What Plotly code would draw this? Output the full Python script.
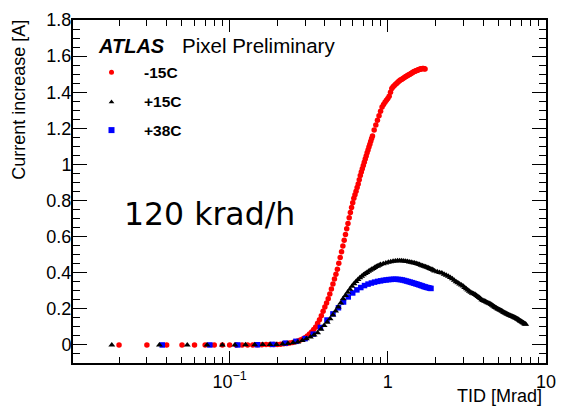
import plotly.graph_objects as go

# ---------------- data ----------------
series_names = ["-15C", "+15C", "+38C"]

red_x = [0.02, 0.03, 0.04, 0.05, 0.06, 0.07, 0.08, 0.09, 0.10,
         0.11, 0.12, 0.13, 0.14, 0.15, 0.16, 0.17, 0.18, 0.19,
         0.20, 0.21, 0.22, 0.23, 0.24, 0.25, 0.26, 0.27, 0.28, 0.29,
         0.30, 0.31, 0.32, 0.33, 0.34, 0.35, 0.36, 0.37, 0.38, 0.39,
         0.40, 0.41, 0.42, 0.43, 0.44, 0.45, 0.46, 0.47, 0.48, 0.49,
         0.50, 0.51, 0.52, 0.53, 0.54, 0.55, 0.56, 0.57, 0.58, 0.59,
         0.60, 0.61, 0.62, 0.63, 0.64, 0.65, 0.66, 0.67, 0.68, 0.69,
         0.70, 0.71, 0.72, 0.73, 0.74, 0.75, 0.76, 0.77, 0.78, 0.79,
         0.80, 0.82, 0.84, 0.86, 0.88, 0.90, 0.92, 0.94, 0.96, 0.98,
         1.00, 1.02, 1.04, 1.06, 1.08, 1.10, 1.12, 1.14, 1.16, 1.18,
         1.20, 1.22, 1.24, 1.26, 1.28, 1.30, 1.32, 1.34, 1.36, 1.38,
         1.40, 1.42, 1.44, 1.46, 1.48, 1.50, 1.52, 1.54, 1.56, 1.58,
         1.60, 1.62, 1.64, 1.66, 1.68, 1.70, 1.72]
red_y = [0.0, 0.0, 0.0, 0.0, 0.0, 0.0, 0.0, 0.0, 0.0,
         0.0, 0.0, 0.0, 0.0, 0.001, 0.001, 0.002, 0.002, 0.003,
         0.003, 0.004, 0.006, 0.008, 0.011, 0.014, 0.018, 0.022, 0.027, 0.033,
         0.040, 0.050, 0.060, 0.072, 0.085, 0.100, 0.120, 0.140, 0.162, 0.186,
         0.210, 0.232, 0.256, 0.282, 0.310, 0.338, 0.365, 0.392, 0.420, 0.452,
         0.484, 0.516, 0.548, 0.580, 0.612, 0.643, 0.673, 0.704, 0.734, 0.762,
         0.788, 0.812, 0.832, 0.852, 0.872, 0.892, 0.915, 0.938, 0.958, 0.976,
         0.994, 1.012, 1.030, 1.047, 1.064, 1.080, 1.096, 1.112, 1.128, 1.143,
         1.158, 1.190, 1.218, 1.245, 1.270, 1.295, 1.318, 1.332, 1.345, 1.355,
         1.365, 1.378, 1.400, 1.420, 1.430, 1.437, 1.444, 1.450, 1.456, 1.462,
         1.467, 1.471, 1.475, 1.479, 1.483, 1.487, 1.490, 1.494, 1.497, 1.500,
         1.504, 1.507, 1.510, 1.513, 1.516, 1.518, 1.520, 1.522, 1.524, 1.526,
         1.528, 1.529, 1.530, 1.531, 1.531, 1.530, 1.529]

black_x = [0.018, 0.036, 0.054, 0.072, 0.090, 0.108, 0.126, 0.144, 0.162, 0.180,
           0.198, 0.216, 0.234, 0.252, 0.270, 0.288, 0.306, 0.324, 0.342, 0.360,
           0.378, 0.396, 0.414, 0.432, 0.450, 0.468, 0.486, 0.504, 0.522, 0.540,
           0.558, 0.576, 0.594, 0.612, 0.630, 0.648, 0.666, 0.684, 0.702, 0.720,
           0.738, 0.756, 0.774, 0.792, 0.810, 0.828, 0.846, 0.864, 0.882, 0.900,
           0.936, 0.972, 1.008, 1.044, 1.080, 1.116, 1.152, 1.188, 1.224, 1.260,
           1.296, 1.332, 1.368, 1.404, 1.440, 1.476, 1.512, 1.548, 1.584, 1.620,
           1.656, 1.692, 1.728, 1.764, 1.800, 1.836, 1.872, 1.908, 1.944, 1.980,
           2.052, 2.124, 2.196, 2.268, 2.340, 2.412, 2.484, 2.556, 2.628, 2.700,
           2.772, 2.844, 2.916, 2.988, 3.060, 3.132, 3.204, 3.276, 3.348, 3.420,
           3.492, 3.564, 3.636, 3.708, 3.780, 3.852, 3.924, 3.996,
           4.068, 4.140, 4.212, 4.284, 4.356, 4.428, 4.500, 4.572, 4.644, 4.716,
           4.788, 4.860, 4.932, 5.004, 5.076, 5.148, 5.220, 5.292, 5.364, 5.436,
           5.508, 5.580, 5.652, 5.724, 5.796, 5.868, 5.940, 6.012, 6.084, 6.156,
           6.228, 6.300, 6.372, 6.444, 6.516, 6.588, 6.660, 6.732, 6.804, 6.876,
           6.948, 7.020, 7.092, 7.164, 7.236, 7.308, 7.380, 7.450]
black_y = [0.0, 0.0, 0.0, 0.0, 0.0, 0.0, 0.001, 0.001, 0.002, 0.002,
           0.003, 0.005, 0.008, 0.012, 0.017, 0.025, 0.034, 0.044, 0.055, 0.067,
           0.087, 0.108, 0.126, 0.145, 0.166, 0.188, 0.210, 0.233, 0.256, 0.274,
           0.292, 0.309, 0.325, 0.339, 0.351, 0.362, 0.372, 0.381, 0.389, 0.396,
           0.402, 0.408, 0.414, 0.419, 0.424, 0.429, 0.434, 0.438, 0.442, 0.445,
           0.450, 0.454, 0.458, 0.461, 0.463, 0.465, 0.466, 0.466, 0.466, 0.465,
           0.464, 0.462, 0.460, 0.458, 0.456, 0.454, 0.451, 0.448, 0.445, 0.442,
           0.439, 0.436, 0.433, 0.430, 0.427, 0.424, 0.421, 0.418, 0.414, 0.410,
           0.406, 0.402, 0.398, 0.392, 0.386, 0.380, 0.373, 0.366, 0.358, 0.350,
           0.344, 0.338, 0.332, 0.326, 0.318, 0.311, 0.304, 0.298, 0.292, 0.287,
           0.283, 0.279, 0.274, 0.269, 0.263, 0.257, 0.251, 0.246,
           0.243, 0.240, 0.237, 0.234, 0.231, 0.228, 0.224, 0.220, 0.216, 0.212,
           0.208, 0.205, 0.201, 0.198, 0.195, 0.192, 0.189, 0.186, 0.183, 0.180,
           0.177, 0.175, 0.172, 0.170, 0.167, 0.165, 0.163, 0.161, 0.159, 0.157,
           0.155, 0.153, 0.151, 0.149, 0.147, 0.144, 0.142, 0.139, 0.136, 0.133,
           0.131, 0.128, 0.126, 0.123, 0.121, 0.118, 0.116, 0.114]

blue_x = [0.0375, 0.075, 0.1125, 0.15, 0.1875, 0.225, 0.2625, 0.30, 0.3375, 0.375,
          0.4125, 0.45, 0.4875, 0.525, 0.5625, 0.60, 0.6375, 0.675, 0.7125, 0.75,
          0.7875, 0.825, 0.8625, 0.90, 0.9375, 0.975, 1.0125, 1.05, 1.0875, 1.125,
          1.1625, 1.20, 1.2375, 1.275, 1.3125, 1.35, 1.3875, 1.425, 1.4625, 1.50,
          1.5375, 1.575, 1.6125, 1.65, 1.6875, 1.725, 1.7625, 1.80, 1.8375, 1.875]
blue_y = [0.0, 0.0, 0.0, 0.001, 0.003, 0.010, 0.020, 0.035, 0.060, 0.097,
          0.138, 0.172, 0.206, 0.238, 0.266, 0.288, 0.305, 0.318, 0.329, 0.337,
          0.343, 0.348, 0.352, 0.355, 0.358, 0.360, 0.362, 0.363, 0.364, 0.364,
          0.363, 0.362, 0.360, 0.357, 0.354, 0.351, 0.348, 0.345, 0.342, 0.339,
          0.336, 0.333, 0.330, 0.327, 0.324, 0.321, 0.319, 0.317, 0.315, 0.313]

y_tickvals = [0, 0.2, 0.4, 0.6, 0.8, 1.0, 1.2, 1.4, 1.6, 1.8]
y_ticktext = ["0", "0.2", "0.4", "0.6", "0.8", "1", "1.2", "1.4", "1.6", "1.8"]
x_tickvals = [0.1, 1, 10]
x_ticktext = ["10<sup>\u22121</sup>", "1", "10"]
x_minor = [0.02, 0.03, 0.04, 0.05, 0.06, 0.07, 0.08, 0.09,
           0.2, 0.3, 0.4, 0.5, 0.6, 0.7, 0.8, 0.9,
           2, 3, 4, 5, 6, 7, 8, 9]

# ---------------- figure ----------------
FONT = "Liberation Sans, Arial, Helvetica, sans-serif"
XRANGE = [-1.99, 1.0]
fig = go.Figure()

fig.add_trace(go.Scatter(x=red_x, y=red_y, mode="markers", name=series_names[0],
                         marker=dict(symbol="circle", size=5.5, color="#ff0000",
                                     line=dict(width=0))))
fig.add_trace(go.Scatter(x=blue_x, y=blue_y, mode="markers", name=series_names[2],
                         marker=dict(symbol="square", size=5.5, color="#0000ff",
                                     line=dict(width=0))))
fig.add_trace(go.Scatter(x=black_x, y=black_y, mode="markers", name=series_names[1],
                         marker=dict(symbol="triangle-up", size=6, color="#000000",
                                     line=dict(width=0))))

# empty trace to carry the overlay axis used for minor x ticks
fig.add_trace(go.Scatter(x=[], y=[], xaxis="x3", yaxis="y", showlegend=False,
                         hoverinfo="skip", mode="markers"))

# legend drawn manually in an overlay frame
leg_colors = ["#ff0000", "#000000", "#0000ff"]
leg_symbols = ["circle", "triangle-up", "square"]
leg_sizes = [5, 5, 6]
leg_y = [0.848, 0.761, 0.679]
for i in range(3):
    fig.add_trace(go.Scatter(x=[0.0814], y=[leg_y[i]], xaxis="x2", yaxis="y2",
                             mode="markers", showlegend=False, hoverinfo="skip",
                             marker=dict(symbol=leg_symbols[i], size=leg_sizes[i],
                                         color=leg_colors[i], line=dict(width=0))))

annotations = []
for i in range(3):
    annotations.append(dict(x=0.1455, y=leg_y[i], xref="paper", yref="paper",
                            text="<b>" + series_names[i] + "</b>", showarrow=False,
                            xanchor="left", yanchor="middle",
                            font=dict(family=FONT, size=15.5, color="black")))
annotations += [
    dict(x=0.048, y=0.925, xref="paper", yref="paper", text="<b><i>ATLAS</i></b>",
         showarrow=False, xanchor="left", yanchor="middle",
         font=dict(family=FONT, size=20, color="black")),
    dict(x=0.227, y=0.925, xref="paper", yref="paper", text="Pixel Preliminary",
         showarrow=False, xanchor="left", yanchor="middle",
         font=dict(family=FONT, size=20.5, color="black")),
    dict(x=0.103, y=0.434, xref="paper", yref="paper", text="120 krad/h",
         showarrow=False, xanchor="left", yanchor="middle",
         font=dict(family="DejaVu Sans", size=31.5, color="black")),
    dict(x=-0.113, y=1.005, xref="paper", yref="paper", text="Current increase [A]",
         textangle=-90, showarrow=False, xanchor="center", yanchor="top",
         font=dict(family=FONT, size=18, color="black")),
    dict(x=0.995, y=-0.097, xref="paper", yref="paper", text="TID [Mrad]",
         showarrow=False, xanchor="right", yanchor="middle",
         font=dict(family=FONT, size=18, color="black")),
]

fig.update_layout(
    width=566, height=407,
    margin=dict(l=73, r=10, t=15, b=44),
    paper_bgcolor="white", plot_bgcolor="white",
    showlegend=False,
    font=dict(family=FONT, size=18, color="black"),
    annotations=annotations,
    xaxis=dict(type="log", range=XRANGE, showgrid=False, zeroline=False,
               showline=True, linewidth=2, linecolor="black", mirror="ticks",
               ticks="inside", ticklen=12, tickwidth=1, tickcolor="black",
               tickmode="array", tickvals=x_tickvals, ticktext=x_ticktext,
               ticklabelstandoff=1,
               tickfont=dict(family=FONT, size=18, color="black")),
    xaxis3=dict(type="log", range=XRANGE, overlaying="x", anchor="y",
                showgrid=False, zeroline=False, showline=False, mirror="ticks",
                ticks="inside", ticklen=6, tickwidth=1, tickcolor="black",
                tickmode="array", tickvals=x_minor, showticklabels=False),
    yaxis=dict(range=[-0.1, 1.8], showgrid=False, zeroline=False,
               showline=True, linewidth=2, linecolor="black", mirror="ticks",
               ticks="inside", ticklen=14, tickwidth=1, tickcolor="black",
               tickmode="array", tickvals=y_tickvals, ticktext=y_ticktext,
               ticklabelstandoff=-4,
               tickfont=dict(family=FONT, size=18, color="black"),
               minor=dict(dtick=0.05, tick0=0, ticks="inside", ticklen=7,
                          tickwidth=1, tickcolor="black", showgrid=False)),
    xaxis2=dict(overlaying="x", range=[0, 1], visible=False, anchor="y2"),
    yaxis2=dict(overlaying="y", range=[0, 1], visible=False, anchor="x2"),
)

fig.write_html("out.html")
